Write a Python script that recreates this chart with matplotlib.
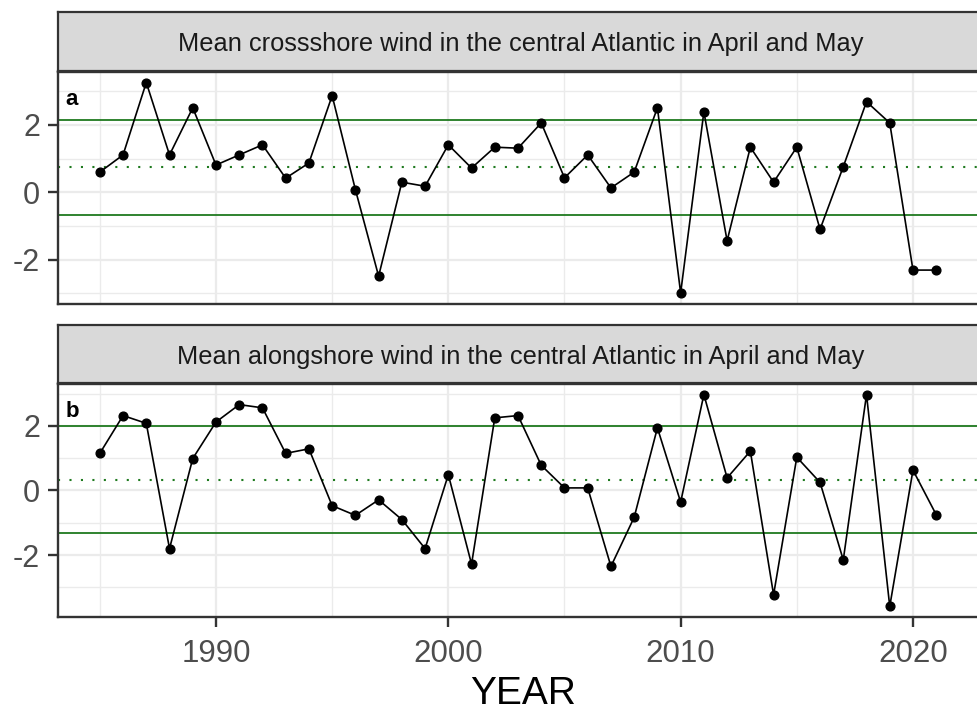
import numpy as np
import matplotlib.pyplot as plt

plt.rcParams['font.family'] = ['Liberation Sans', 'DejaVu Sans']
plt.rcParams['axes.unicode_minus'] = False

years = list(range(1985, 2022))

# crossshore wind anomaly (panel a)
cross = [0.60, 1.11, 3.26, 1.11, 2.51, 0.81, 1.11, 1.41, 0.42, 0.87,
         2.87, 0.08, -2.49, 0.30, 0.18, 1.41, 0.72, 1.34, 1.31, 2.06,
         0.43, 1.11, 0.13, 0.60, 2.51, -2.99, 2.39, -1.44, 1.34, 0.30,
         1.34, -1.10, 0.76, 2.69, 2.06, -2.31, -2.31]
# alongshore wind anomaly (panel b)
along = [1.15, 2.32, 2.08, -1.80, 0.99, 2.12, 2.66, 2.56, 1.15, 1.29,
         -0.47, -0.77, -0.29, -0.90, -1.80, 0.49, -2.28, 2.25, 2.32, 0.78,
         0.08, 0.08, -2.35, -0.83, 1.94, -0.36, 2.97, 0.39, 1.22, -3.23,
         1.03, 0.25, -2.15, 2.97, -3.59, 0.63, -0.75]

# reference lines: mean (dotted), mean +/- sd (solid)
cross_mean, cross_hi, cross_lo = 0.76, 2.15, -0.68
along_mean, along_hi, along_lo = 0.32, 2.01, -1.32

titles = ["Mean crossshore wind in the central Atlantic in April and May",
          "Mean alongshore wind in the central Atlantic in April and May"]
tags = ["a", "b"]

W, H = 978, 713
DARK = '#333333'
GREEN = '#1f7a1f'


def box(x0, y0, x1, y1):
    # pixel box -> figure fraction
    return [x0 / W, 1 - y1 / H, (x1 - x0) / W, (y1 - y0) / H]


fig = plt.figure(figsize=(W / 100, H / 100), dpi=100)

panels = [(cross, cross_mean, cross_hi, cross_lo, (72, 303.5), (12, 71)),
          (along, along_mean, along_hi, along_lo, (384, 617), (325, 383))]

for i, (vals, m, hi, lo, (py0, py1), (sy0, sy1)) in enumerate(panels):
    ax = fig.add_axes(box(58, py0, 985, py1))
    st = fig.add_axes(box(58, sy0, 985, sy1))

    # strip
    st.set_facecolor('#D9D9D9')
    st.set_xticks([])
    st.set_yticks([])
    for s in st.spines.values():
        s.set_color(DARK)
        s.set_linewidth(1.6)
    st.text(0.4995, 0.45, titles[i], transform=st.transAxes, ha='center',
            va='center', fontsize=18.3, color='#1A1A1A')

    v = np.array(vals)
    rng = v.max() - v.min()
    ax.set_ylim(v.min() - 0.05 * rng, v.max() + 0.05 * rng)
    ax.set_xlim(1983.2, 2023.1)

    ax.set_xticks([1990, 2000, 2010, 2020])
    ax.set_xticks([1985, 1995, 2005, 2015], minor=True)
    ax.set_yticks([-2, 0, 2])
    ax.set_yticks([-3, -1, 1, 3], minor=True)
    ax.grid(which='major', color='#EBEBEB', lw=1.6)
    ax.grid(which='minor', color='#EBEBEB', lw=1.0)
    ax.set_axisbelow(True)

    ax.axhline(hi, color=GREEN, lw=1.3)
    ax.axhline(lo, color=GREEN, lw=1.3)
    ax.axhline(m, color=GREEN, lw=1.5, ls=(0, (1, 4.5)))
    ax.plot(years, vals, color='black', lw=1.2, marker='o', ms=6.3)

    ax.text(0.008, 0.88, tags[i], transform=ax.transAxes, fontsize=16,
            fontweight='bold', va='center', ha='left')

    for s in ax.spines.values():
        s.set_color(DARK)
        s.set_linewidth(1.7)
    ax.tick_params(axis='y', which='major', length=7, width=1.7,
                   color=DARK, labelsize=22, labelcolor='#4D4D4D', pad=6)
    ax.tick_params(which='minor', length=0)
    if i == 0:
        ax.tick_params(axis='x', which='major', length=0, labelbottom=False)
    else:
        ax.tick_params(axis='x', which='major', length=7, width=1.7,
                       color=DARK, labelsize=22.5, labelcolor='#4D4D4D', pad=9)

fig.text(523 / W, 1 - 694 / H, "YEAR", ha='center', va='center', fontsize=28)

fig.savefig("out.png", dpi=100)
